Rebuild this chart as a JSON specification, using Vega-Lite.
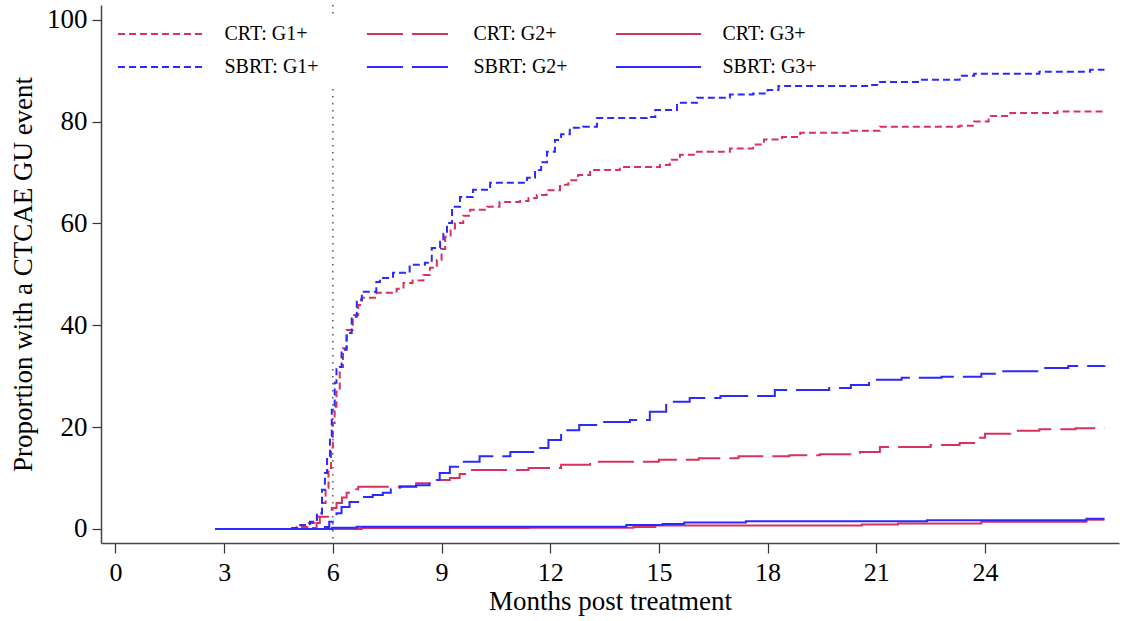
{
  "$schema": "https://vega.github.io/schema/vega-lite/v6.json",
  "width": 1018,
  "height": 538,
  "autosize": {"type": "none"},
  "padding": {"left": 101, "top": 5, "right": 4, "bottom": 78},
  "background": "white",
  "config": {
    "view": {"stroke": null},
    "font": "Liberation Serif",
    "axis": {"labelFont": "Liberation Serif", "titleFont": "Liberation Serif", "labelColor": "black", "titleColor": "black", "titleFontWeight": "normal", "grid": false, "domainColor": "#444", "domainWidth": 1.5, "tickColor": "#333", "tickWidth": 1.2}
  },
  "datasets": {
    "curves": [
      {"s":"CRT: G1+","t":2.75,"p":0},{"s":"CRT: G1+","t":5.0,"p":0.4},{"s":"CRT: G1+","t":5.3,"p":1.2},{"s":"CRT: G1+","t":5.56,"p":2.4},{"s":"CRT: G1+","t":5.7,"p":5.1},{"s":"CRT: G1+","t":5.8,"p":8},{"s":"CRT: G1+","t":5.88,"p":12},{"s":"CRT: G1+","t":5.95,"p":16},{"s":"CRT: G1+","t":6.0,"p":20.8},{"s":"CRT: G1+","t":6.05,"p":24},{"s":"CRT: G1+","t":6.1,"p":27},{"s":"CRT: G1+","t":6.19,"p":31.8},{"s":"CRT: G1+","t":6.28,"p":35.5},{"s":"CRT: G1+","t":6.38,"p":39.1},{"s":"CRT: G1+","t":6.55,"p":42},{"s":"CRT: G1+","t":6.7,"p":44},{"s":"CRT: G1+","t":6.8,"p":45.4},{"s":"CRT: G1+","t":7.2,"p":46.4},{"s":"CRT: G1+","t":7.76,"p":47.2},{"s":"CRT: G1+","t":7.95,"p":48.3},{"s":"CRT: G1+","t":8.2,"p":48.8},{"s":"CRT: G1+","t":8.5,"p":49.9},{"s":"CRT: G1+","t":8.68,"p":51.3},{"s":"CRT: G1+","t":8.87,"p":52.8},{"s":"CRT: G1+","t":9.0,"p":55},{"s":"CRT: G1+","t":9.1,"p":57.4},{"s":"CRT: G1+","t":9.25,"p":59},{"s":"CRT: G1+","t":9.37,"p":60.1},{"s":"CRT: G1+","t":9.6,"p":61.5},{"s":"CRT: G1+","t":9.79,"p":62.7},{"s":"CRT: G1+","t":10.26,"p":63.3},{"s":"CRT: G1+","t":10.6,"p":64.2},{"s":"CRT: G1+","t":11.17,"p":64.4},{"s":"CRT: G1+","t":11.4,"p":65},{"s":"CRT: G1+","t":11.63,"p":65.6},{"s":"CRT: G1+","t":11.9,"p":66.5},{"s":"CRT: G1+","t":12.27,"p":67.6},{"s":"CRT: G1+","t":12.5,"p":68.5},{"s":"CRT: G1+","t":12.77,"p":69.5},{"s":"CRT: G1+","t":13.1,"p":70.5},{"s":"CRT: G1+","t":13.92,"p":71.1},{"s":"CRT: G1+","t":15.03,"p":71.5},{"s":"CRT: G1+","t":15.3,"p":72.5},{"s":"CRT: G1+","t":15.58,"p":73.5},{"s":"CRT: G1+","t":16.05,"p":74.1},{"s":"CRT: G1+","t":16.96,"p":74.7},{"s":"CRT: G1+","t":17.6,"p":75.5},{"s":"CRT: G1+","t":17.9,"p":76.5},{"s":"CRT: G1+","t":18.4,"p":77},{"s":"CRT: G1+","t":18.9,"p":77.8},{"s":"CRT: G1+","t":20.3,"p":78.2},{"s":"CRT: G1+","t":21.1,"p":79},{"s":"CRT: G1+","t":23.3,"p":79.2},{"s":"CRT: G1+","t":23.7,"p":80},{"s":"CRT: G1+","t":24.1,"p":81.1},{"s":"CRT: G1+","t":24.7,"p":81.7},{"s":"CRT: G1+","t":26.0,"p":82},{"s":"CRT: G1+","t":27.3,"p":82},

      {"s":"CRT: G2+","t":2.75,"p":0},{"s":"CRT: G2+","t":5.45,"p":0.2},{"s":"CRT: G2+","t":5.55,"p":1.2},{"s":"CRT: G2+","t":5.64,"p":2.4},{"s":"CRT: G2+","t":5.97,"p":4.1},{"s":"CRT: G2+","t":6.1,"p":5.1},{"s":"CRT: G2+","t":6.25,"p":6.2},{"s":"CRT: G2+","t":6.38,"p":7.1},{"s":"CRT: G2+","t":6.55,"p":7.8},{"s":"CRT: G2+","t":6.7,"p":8.3},{"s":"CRT: G2+","t":7.85,"p":8.4},{"s":"CRT: G2+","t":8.3,"p":9},{"s":"CRT: G2+","t":8.87,"p":9.6},{"s":"CRT: G2+","t":9.23,"p":10},{"s":"CRT: G2+","t":9.5,"p":10.8},{"s":"CRT: G2+","t":9.8,"p":11.6},{"s":"CRT: G2+","t":11.4,"p":12},{"s":"CRT: G2+","t":12.3,"p":12.6},{"s":"CRT: G2+","t":13.1,"p":13.2},{"s":"CRT: G2+","t":15.0,"p":13.6},{"s":"CRT: G2+","t":16.1,"p":13.9},{"s":"CRT: G2+","t":17.2,"p":14.3},{"s":"CRT: G2+","t":18.6,"p":14.5},{"s":"CRT: G2+","t":19.45,"p":14.7},{"s":"CRT: G2+","t":20.55,"p":15.1},{"s":"CRT: G2+","t":21.1,"p":16.1},{"s":"CRT: G2+","t":22.5,"p":16.5},{"s":"CRT: G2+","t":23.3,"p":16.9},{"s":"CRT: G2+","t":23.7,"p":17.9},{"s":"CRT: G2+","t":24.0,"p":18.7},{"s":"CRT: G2+","t":24.7,"p":19.3},{"s":"CRT: G2+","t":25.5,"p":19.6},{"s":"CRT: G2+","t":26.5,"p":19.8},{"s":"CRT: G2+","t":27.3,"p":19.8},

      {"s":"CRT: G3+","t":2.75,"p":0},{"s":"CRT: G3+","t":6.8,"p":0.2},{"s":"CRT: G3+","t":11.4,"p":0.25},{"s":"CRT: G3+","t":14.3,"p":0.4},{"s":"CRT: G3+","t":14.9,"p":0.7},{"s":"CRT: G3+","t":20.6,"p":0.9},{"s":"CRT: G3+","t":21.6,"p":1.1},{"s":"CRT: G3+","t":23.9,"p":1.4},{"s":"CRT: G3+","t":26.8,"p":1.8},{"s":"CRT: G3+","t":27.3,"p":1.8},

      {"s":"SBRT: G1+","t":2.75,"p":0},{"s":"SBRT: G1+","t":4.81,"p":0.2},{"s":"SBRT: G1+","t":5.1,"p":0.8},{"s":"SBRT: G1+","t":5.37,"p":1.4},{"s":"SBRT: G1+","t":5.56,"p":3.1},{"s":"SBRT: G1+","t":5.7,"p":7.7},{"s":"SBRT: G1+","t":5.78,"p":11},{"s":"SBRT: G1+","t":5.84,"p":14.1},{"s":"SBRT: G1+","t":5.92,"p":18},{"s":"SBRT: G1+","t":5.97,"p":23.4},{"s":"SBRT: G1+","t":6.05,"p":28.7},{"s":"SBRT: G1+","t":6.1,"p":31.8},{"s":"SBRT: G1+","t":6.24,"p":35.2},{"s":"SBRT: G1+","t":6.38,"p":38.5},{"s":"SBRT: G1+","t":6.52,"p":41.7},{"s":"SBRT: G1+","t":6.66,"p":45},{"s":"SBRT: G1+","t":6.8,"p":46.6},{"s":"SBRT: G1+","t":7.2,"p":48.5},{"s":"SBRT: G1+","t":7.3,"p":49.3},{"s":"SBRT: G1+","t":7.66,"p":50.3},{"s":"SBRT: G1+","t":8.12,"p":51.9},{"s":"SBRT: G1+","t":8.54,"p":52.3},{"s":"SBRT: G1+","t":8.73,"p":55.2},{"s":"SBRT: G1+","t":8.96,"p":56.4},{"s":"SBRT: G1+","t":9.05,"p":58},{"s":"SBRT: G1+","t":9.15,"p":60.1},{"s":"SBRT: G1+","t":9.29,"p":63.3},{"s":"SBRT: G1+","t":9.51,"p":65.2},{"s":"SBRT: G1+","t":9.87,"p":66.6},{"s":"SBRT: G1+","t":10.34,"p":68},{"s":"SBRT: G1+","t":11.36,"p":69},{"s":"SBRT: G1+","t":11.58,"p":70.5},{"s":"SBRT: G1+","t":11.75,"p":72},{"s":"SBRT: G1+","t":11.91,"p":74.1},{"s":"SBRT: G1+","t":12.13,"p":76.4},{"s":"SBRT: G1+","t":12.3,"p":77.5},{"s":"SBRT: G1+","t":12.54,"p":78.8},{"s":"SBRT: G1+","t":12.9,"p":79},{"s":"SBRT: G1+","t":13.29,"p":80.7},{"s":"SBRT: G1+","t":14.67,"p":80.9},{"s":"SBRT: G1+","t":14.9,"p":82.3},{"s":"SBRT: G1+","t":15.5,"p":83.7},{"s":"SBRT: G1+","t":16.05,"p":84.7},{"s":"SBRT: G1+","t":16.96,"p":85.3},{"s":"SBRT: G1+","t":17.6,"p":85.5},{"s":"SBRT: G1+","t":18.0,"p":86.2},{"s":"SBRT: G1+","t":18.3,"p":87},{"s":"SBRT: G1+","t":20.8,"p":87.2},{"s":"SBRT: G1+","t":21.1,"p":87.8},{"s":"SBRT: G1+","t":22.2,"p":88.2},{"s":"SBRT: G1+","t":23.3,"p":89},{"s":"SBRT: G1+","t":23.7,"p":89.4},{"s":"SBRT: G1+","t":25.5,"p":89.8},{"s":"SBRT: G1+","t":26.9,"p":90.2},{"s":"SBRT: G1+","t":27.3,"p":90.2},

      {"s":"SBRT: G2+","t":2.75,"p":0},{"s":"SBRT: G2+","t":5.78,"p":0.4},{"s":"SBRT: G2+","t":5.9,"p":1.4},{"s":"SBRT: G2+","t":6.0,"p":2.4},{"s":"SBRT: G2+","t":6.1,"p":3.1},{"s":"SBRT: G2+","t":6.24,"p":4.3},{"s":"SBRT: G2+","t":6.46,"p":5.3},{"s":"SBRT: G2+","t":6.74,"p":6.3},{"s":"SBRT: G2+","t":7.1,"p":6.7},{"s":"SBRT: G2+","t":7.38,"p":7.1},{"s":"SBRT: G2+","t":7.6,"p":7.8},{"s":"SBRT: G2+","t":7.85,"p":8.3},{"s":"SBRT: G2+","t":8.3,"p":8.6},{"s":"SBRT: G2+","t":8.67,"p":9.6},{"s":"SBRT: G2+","t":8.95,"p":11},{"s":"SBRT: G2+","t":9.23,"p":12.2},{"s":"SBRT: G2+","t":9.5,"p":13.2},{"s":"SBRT: G2+","t":10.05,"p":14.3},{"s":"SBRT: G2+","t":10.9,"p":15.1},{"s":"SBRT: G2+","t":11.6,"p":15.9},{"s":"SBRT: G2+","t":11.95,"p":17.5},{"s":"SBRT: G2+","t":12.3,"p":19.4},{"s":"SBRT: G2+","t":12.8,"p":20.4},{"s":"SBRT: G2+","t":13.4,"p":21},{"s":"SBRT: G2+","t":14.2,"p":21.4},{"s":"SBRT: G2+","t":14.75,"p":23},{"s":"SBRT: G2+","t":15.2,"p":25},{"s":"SBRT: G2+","t":15.85,"p":25.7},{"s":"SBRT: G2+","t":16.7,"p":26.1},{"s":"SBRT: G2+","t":18.2,"p":27.3},{"s":"SBRT: G2+","t":19.7,"p":27.7},{"s":"SBRT: G2+","t":20.3,"p":28.3},{"s":"SBRT: G2+","t":20.8,"p":29.3},{"s":"SBRT: G2+","t":21.7,"p":29.7},{"s":"SBRT: G2+","t":22.8,"p":29.9},{"s":"SBRT: G2+","t":23.9,"p":30.5},{"s":"SBRT: G2+","t":24.4,"p":31},{"s":"SBRT: G2+","t":25.5,"p":31.6},{"s":"SBRT: G2+","t":26.3,"p":32},{"s":"SBRT: G2+","t":27.3,"p":32.1},

      {"s":"SBRT: G3+","t":2.75,"p":0},{"s":"SBRT: G3+","t":5.98,"p":0.26},{"s":"SBRT: G3+","t":6.66,"p":0.45},{"s":"SBRT: G3+","t":14.1,"p":0.8},{"s":"SBRT: G3+","t":15.1,"p":1.0},{"s":"SBRT: G3+","t":15.7,"p":1.3},{"s":"SBRT: G3+","t":17.4,"p":1.5},{"s":"SBRT: G3+","t":22.4,"p":1.7},{"s":"SBRT: G3+","t":26.8,"p":2.0},{"s":"SBRT: G3+","t":27.3,"p":2.0}
    ],
    "marker": [{"t": 6}]
  },
  "layer": [
    {
      "data": {"name": "marker"},
      "mark": {"type": "rule", "color": "#555", "strokeWidth": 1.5, "strokeDash": [1.5, 5.5]},
      "encoding": {
        "x": {"field": "t", "type": "quantitative", "scale": {"domain": [-0.4, 27.7], "nice": false, "zero": false}}
      }
    },
    {
      "data": {"name": "curves"},
      "mark": {"type": "line", "interpolate": "step-after", "strokeWidth": 2},
      "encoding": {
        "x": {
          "field": "t", "type": "quantitative",
          "scale": {"domain": [-0.4, 27.7], "nice": false, "zero": false},
          "axis": {"values": [0, 3, 6, 9, 12, 15, 18, 21, 24], "title": "Months post treatment", "labelFontSize": 26, "titleFontSize": 27, "tickSize": 10, "labelPadding": 6, "titlePadding": 3}
        },
        "y": {
          "field": "p", "type": "quantitative",
          "scale": {"domain": [-2.75, 102.9], "nice": false, "zero": false},
          "axis": {"values": [0, 20, 40, 60, 80, 100], "title": "Proportion with a CTCAE GU event", "labelFontSize": 27, "titleFontSize": 27, "tickSize": 9, "labelPadding": 5, "titlePadding": 9}
        },
        "color": {
          "field": "s", "type": "nominal",
          "scale": {"domain": ["CRT: G1+", "SBRT: G1+", "CRT: G2+", "SBRT: G2+", "CRT: G3+", "SBRT: G3+"], "range": ["#d8325c", "#2a2aff", "#d8325c", "#2a2aff", "#d8325c", "#2a2aff"]},
          "legend": {"title": null, "orient": "none", "legendX": 9, "legendY": 9, "columns": 3, "symbolType": "M-4,0H4", "symbolSize": 452, "symbolOffset": 30.5, "symbolStrokeWidth": 2, "labelFont": "Liberation Serif", "labelFontSize": 20, "labelColor": "black", "labelOffset": 52, "rowPadding": 11, "columnPadding": 43, "fillColor": "white", "padding": 8, "zindex": 1, "labelLimit": 300}
        },
        "strokeDash": {
          "field": "s", "type": "nominal",
          "scale": {"domain": ["CRT: G1+", "SBRT: G1+", "CRT: G2+", "SBRT: G2+", "CRT: G3+", "SBRT: G3+"], "range": [[7, 4], [7, 4], [36, 9], [36, 9], [1, 0], [1, 0]]},
          "legend": {"title": null, "orient": "none", "legendX": 9, "legendY": 9, "columns": 3, "symbolType": "M-4,0H4", "symbolSize": 452, "symbolOffset": 30.5, "symbolStrokeWidth": 2, "labelFont": "Liberation Serif", "labelFontSize": 20, "labelColor": "black", "labelOffset": 52, "rowPadding": 11, "columnPadding": 43, "fillColor": "white", "padding": 8, "zindex": 1, "labelLimit": 300}
        }
      }
    }
  ]
}
